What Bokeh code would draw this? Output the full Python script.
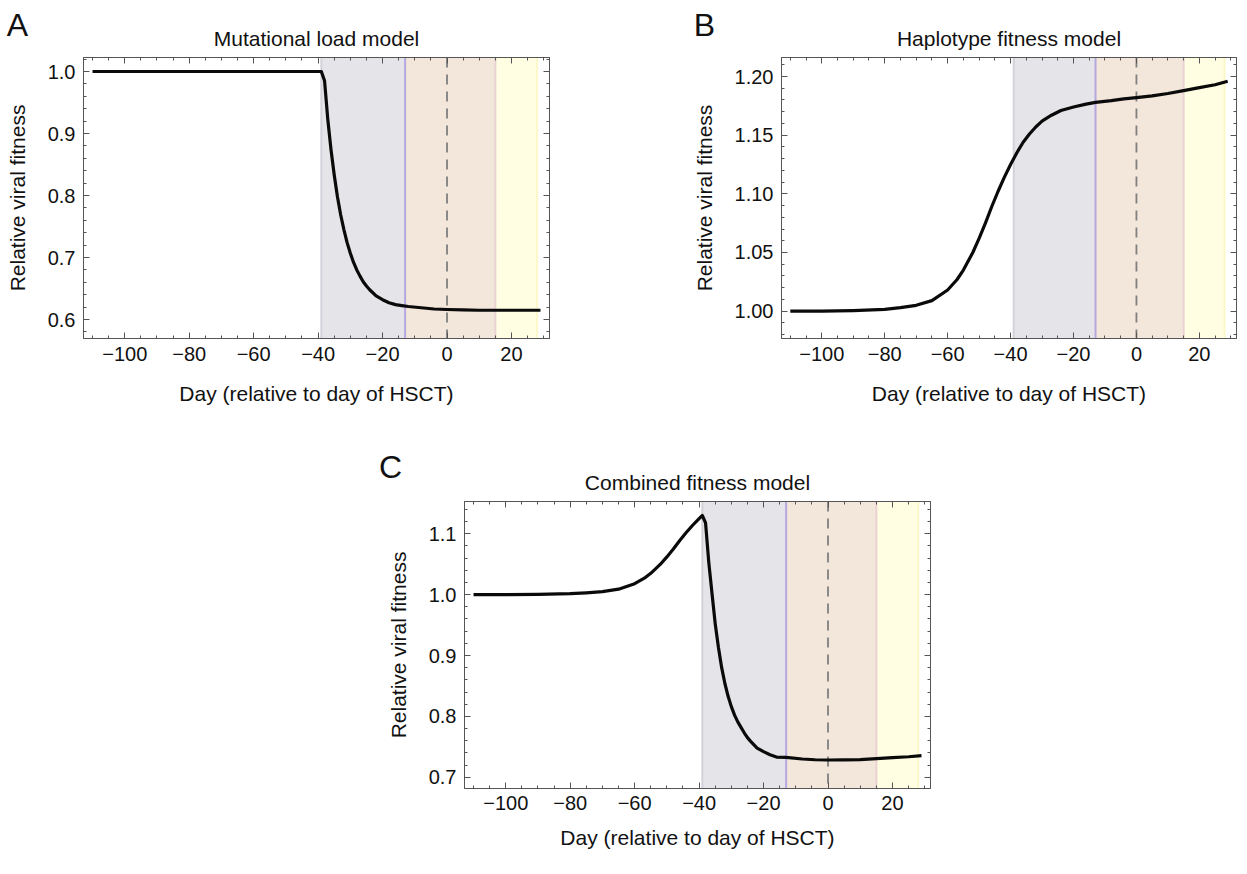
from bokeh.plotting import figure
from bokeh.models import (BoxAnnotation, Span, LinearAxis, Label, Range1d, Spacer,
                          SingleIntervalTicker, FixedTicker, NumeralTickFormatter)
from bokeh.layouts import row, column
from bokeh.embed import file_html
from bokeh.resources import INLINE

FONT = "Liberation Sans"
TEXT = "#111111"
FRAME = "#555555"

# ---------------- data ----------------
days_a = [-110, -39, -38, -37, -36, -35, -34, -33, -32, -31, -30, -29, -28, -27, -26,
          -25, -24, -22, -20, -18, -16, -14, -12, -8, -4, 0, 5, 10, 20, 29]
fit_a = [1.000, 1.000, 0.985, 0.923, 0.874, 0.833, 0.798, 0.769, 0.745, 0.724, 0.707,
         0.692, 0.680, 0.670, 0.661, 0.654, 0.648, 0.638, 0.632, 0.627, 0.624, 0.6225,
         0.621, 0.619, 0.617, 0.6162, 0.6155, 0.615, 0.615, 0.615]

days_b = [-110, -100, -90, -80, -75, -70, -65, -60, -57, -55, -52, -50, -48, -46, -44,
          -42, -40, -38, -36, -34, -32, -30, -27, -24, -20, -16, -13, -8, -4, 0, 5, 10,
          15, 20, 25, 29]
fit_b = [1.000, 1.000, 1.0005, 1.0015, 1.003, 1.005, 1.009, 1.018, 1.027, 1.035,
         1.050, 1.062, 1.075, 1.089, 1.102, 1.114, 1.125, 1.135, 1.144, 1.151,
         1.157, 1.162, 1.167, 1.171, 1.174, 1.1765, 1.178, 1.1795, 1.181, 1.182,
         1.1835, 1.1855, 1.188, 1.1905, 1.193, 1.196]

days_c = [-110, -100, -90, -80, -75, -70, -65, -60, -57, -55, -52, -50, -48, -46, -44,
          -42, -40, -39, -38, -37, -36, -35, -34, -33, -32, -31, -30, -29, -28, -27,
          -26, -25, -24, -22, -20, -18, -16, -13, -8, -4, 0, 5, 10, 15, 20, 25, 29]
fit_c = [1.000, 1.000, 1.0005, 1.0015, 1.003, 1.005, 1.009, 1.018, 1.027, 1.035,
         1.050, 1.062, 1.075, 1.089, 1.102, 1.114, 1.125, 1.130, 1.118, 1.053,
         1.002, 0.952, 0.913, 0.880, 0.854, 0.833, 0.816, 0.802, 0.791, 0.782,
         0.773, 0.765, 0.759, 0.748, 0.742, 0.737, 0.7332, 0.7327, 0.730, 0.7287,
         0.7283, 0.7284, 0.729, 0.7306, 0.7321, 0.7337, 0.7355]

phase_edges = [-39, -13, 15, 28]
hsct_day = 0
phase_fills = ["#e5e5e9", "#f3e6da", "#fffee3"]
edge_colors = ["#d2d2db", "#b6a8de", "#ebd3d3", "#fcf7c8"]

x_tick_values = [-100, -80, -60, -40, -20, 0, 20]
x_tick_labels = ["\u2212100", "\u221280", "\u221260", "\u221240", "\u221220", "0", "20"]
x_minor_ticks = list(range(-110, 31, 5))

titles = ["Mutational load model", "Haplotype fitness model", "Combined fitness model"]
letters = ["A", "B", "C"]
x_label = "Day (relative to day of HSCT)"
y_label = "Relative viral fitness"

X_RANGE = (-112.8, 31.8)


def style_axis(ax, labels=True):
    ax.axis_line_color = FRAME
    ax.axis_line_width = 1
    ax.major_tick_line_color = FRAME
    ax.minor_tick_line_color = FRAME
    ax.major_tick_in = 6
    ax.major_tick_out = 0
    ax.minor_tick_in = 3
    ax.minor_tick_out = 0
    if labels:
        ax.major_label_text_font = FONT
        ax.major_label_text_font_size = "20px"
        ax.major_label_text_color = TEXT
        ax.major_label_standoff = 8
        ax.axis_label_text_font = FONT
        ax.axis_label_text_font_size = "21px"
        ax.axis_label_text_font_style = "normal"
        ax.axis_label_text_color = TEXT
    else:
        ax.major_label_text_font_size = "0px"
        ax.major_label_text_alpha = 0
        ax.major_label_text_color = None
        ax.major_label_standoff = 0


def make_panel(days, fit, title, letter, y_range, y_interval, y_fmt,
               width, height, bl, br, bt, bb, letter_xy, letter_side,
               y_label_standoff, x_label_standoff, x_tick_standoff=8):
    p = figure(width=width, height=height,
               x_range=Range1d(*X_RANGE), y_range=Range1d(*y_range),
               output_backend="svg", toolbar_location=None,
               min_border_left=bl, min_border_right=br,
               min_border_top=bt, min_border_bottom=bb)
    p.xgrid.visible = False
    p.ygrid.visible = False
    p.outline_line_color = FRAME
    p.outline_line_width = 1
    p.background_fill_color = "white"
    p.border_fill_color = "white"

    # phase shading
    for i in range(3):
        p.add_layout(BoxAnnotation(left=phase_edges[i], right=phase_edges[i + 1],
                                   fill_color=phase_fills[i], fill_alpha=1.0,
                                   line_alpha=0, level="underlay"))
    for loc, col in zip(phase_edges, edge_colors):
        p.add_layout(Span(location=loc, dimension="height", line_color=col,
                          line_width=2, level="underlay"))
    p.add_layout(Span(location=hsct_day, dimension="height", line_color="#7f7f7f",
                      line_width=1.8, line_dash="10 7", level="underlay"))

    p.line(days, fit, line_color="#0a0a0a", line_width=3.2, line_join="round")

    xt = FixedTicker(ticks=x_tick_values, minor_ticks=x_minor_ticks)
    yt = SingleIntervalTicker(interval=y_interval, num_minor_ticks=5)

    xa = p.xaxis[0]
    xa.ticker = xt
    xa.major_label_overrides = dict(zip(x_tick_values, x_tick_labels))
    xa.axis_label = x_label
    style_axis(xa)
    xa.major_label_standoff = x_tick_standoff
    xa.axis_label_standoff = x_label_standoff

    ya = p.yaxis[0]
    ya.ticker = yt
    ya.formatter = NumeralTickFormatter(format=y_fmt)
    ya.axis_label = y_label
    style_axis(ya)
    ya.axis_label_standoff = y_label_standoff

    top = LinearAxis(ticker=xt)
    style_axis(top, labels=False)
    p.add_layout(top, "above")
    right = LinearAxis(ticker=yt)
    style_axis(right, labels=False)
    p.add_layout(right, "right")

    p.title.text = title
    p.title.align = "center"
    p.title.text_font = FONT
    p.title.text_font_size = "21px"
    p.title.text_font_style = "normal"
    p.title.text_color = TEXT
    p.title.standoff = 16

    # panel letter, placed in a side panel so it is not clipped to the frame
    p.add_layout(Label(x=letter_xy[0], y=letter_xy[1], x_units="canvas", y_units="canvas",
                       text=letter, text_font=FONT, text_font_size="32px",
                       text_align="center", text_baseline="alphabetic",
                       text_color=TEXT), letter_side)
    return p


pA = make_panel(days_a, fit_a, titles[0], letters[0], (0.5694, 1.0226), 0.1, "0.0",
                width=575, height=421, bl=83, br=26, bt=57, bb=76,
                letter_xy=(17, 24), letter_side="right",
                y_label_standoff=16, x_label_standoff=18)
pB = make_panel(days_b, fit_b, titles[1], letters[1], (0.9767, 1.2162), 0.05, "0.00",
                width=662, height=421, bl=206, br=1, bt=57, bb=83,
                letter_xy=(129, 24), letter_side="left",
                y_label_standoff=16, x_label_standoff=18)
pC = make_panel(days_c, fit_c, titles[2], letters[2], (0.6815, 1.153), 0.1, "0.0",
                width=588, height=435, bl=92, br=30, bt=80, bb=68,
                letter_xy=(18, 45), letter_side="right",
                y_label_standoff=16, x_label_standoff=13, x_tick_standoff=7)

layout = column(row(pA, pB), row(Spacer(width=372, height=10), pC))

open("out.html", "w").write(file_html(layout, INLINE))
